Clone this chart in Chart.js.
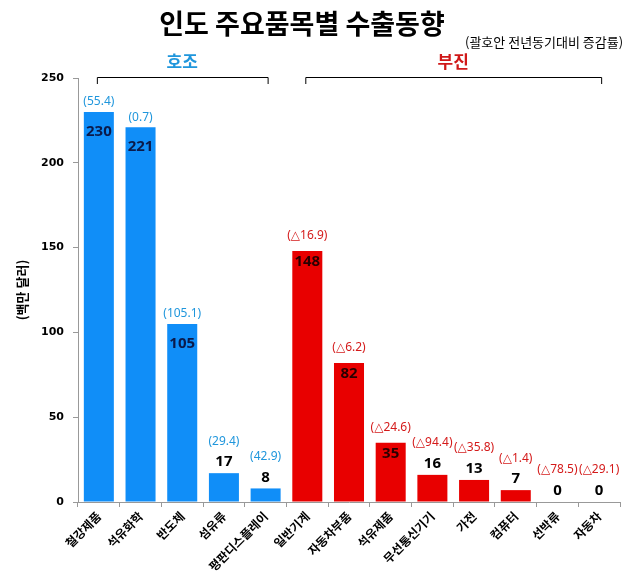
<!DOCTYPE html>
<html>
<head>
<meta charset="utf-8">
<script src="https://cdn.jsdelivr.net/npm/chart.js@4"></script>
<style>
  html, body { margin: 0; padding: 0; background: #fff; }
  #wrap { width: 638px; height: 586px; }
</style>
</head>
<body>
<div id="wrap"><canvas id="c" width="638" height="586"></canvas></div>
<script>
const categories = ['철강제품','석유화학','반도체','섬유류','평판디스플레이','일반기계','자동차부품','석유제품','무선통신기기','가전','컴퓨터','선박류','자동차'];
const exportValues = [230, 221, 105, 17, 8, 148, 82, 35, 16, 13, 7, 0, 0];
const changeLabels = ['(55.4)','(0.7)','(105.1)','(29.4)','(42.9)','(△16.9)','(△6.2)','(△24.6)','(△94.4)','(△35.8)','(△1.4)','(△78.5)','(△29.1)'];
const groupOf = ['호조','호조','호조','호조','호조','부진','부진','부진','부진','부진','부진','부진','부진'];
const groupNames = ['호조','부진'];
const yTicks = [0, 50, 100, 150, 200, 250];
const titleText = '인도 주요품목별 수출동향';
const subtitleText = '(괄호안 전년동기대비 증감률)';
const yAxisTitle = '(백만 달러)';

const KR = '"Noto Sans CJK KR", "Noto Sans", sans-serif';
const styles = {
  '호조': { bar: '#108EF8', label: '#1F96DC', inside: '#0B1A4A', group: '#1F96DC' },
  '부진': { bar: '#E80000', label: '#D41A1A', inside: '#2A0000', group: '#D01818' }
};

const overlay = {
  id: 'overlay',
  afterDatasetsDraw(chart) {
    const ctx = chart.ctx;
    const meta = chart.getDatasetMeta(0);
    const area = chart.chartArea;
    ctx.save();
    meta.data.forEach((bar, i) => {
      const g = groupOf[i];
      const st = styles[g];
      const top = bar.y;
      const h = bar.base - bar.y;
      const x = bar.x;
      ctx.textAlign = 'center';
      ctx.textBaseline = 'middle';
      let valY, chY, valColor;
      if (h > 40) {
        valY = top + (g === '호조' ? 20 : 11);
        chY = top - (g === '호조' ? 10 : 15);
        valColor = st.inside;
      } else {
        valY = top - 11;
        chY = top - 32;
        valColor = '#000';
      }
      ctx.font = 'bold 15px "Noto Sans", sans-serif';
      ctx.fillStyle = valColor;
      ctx.fillText(String(exportValues[i]), x, valY);
      ctx.font = '12px "Noto Sans", "DejaVu Sans", sans-serif';
      ctx.fillStyle = st.label;
      ctx.fillText(changeLabels[i], x, chY);
    });
    const xs = chart.scales.x;
    groupNames.forEach(g => {
      const idx = groupOf.map((v, i) => v === g ? i : -1).filter(i => i >= 0);
      const x0 = xs.getPixelForValue(idx[0]) - 2;
      const x1 = xs.getPixelForValue(idx[idx.length - 1]) + 2;
      const y = area.top - 1;
      ctx.strokeStyle = '#000';
      ctx.lineWidth = 1;
      ctx.beginPath();
      ctx.moveTo(x0 + 0.5, y + 7);
      ctx.lineTo(x0 + 0.5, y + 0.5);
      ctx.lineTo(x1 + 0.5, y + 0.5);
      ctx.lineTo(x1 + 0.5, y + 7);
      ctx.stroke();
      ctx.font = 'bold 17px ' + KR;
      ctx.fillStyle = styles[g].group;
      ctx.textAlign = 'center';
      ctx.textBaseline = 'middle';
      ctx.fillText(g, (x0 + x1) / 2, y - 15);
    });
    ctx.fillStyle = '#000';
    ctx.font = 'bold 27px ' + KR;
    ctx.textAlign = 'center';
    ctx.textBaseline = 'middle';
    ctx.fillText(titleText, 302, 24);
    ctx.font = '13px ' + KR;
    ctx.textAlign = 'left';
    ctx.fillText(subtitleText, 465, 42);
    ctx.save();
    ctx.translate(22, 290);
    ctx.rotate(-Math.PI / 2);
    ctx.font = 'bold 13px ' + KR;
    ctx.textAlign = 'center';
    ctx.textBaseline = 'middle';
    ctx.fillText(yAxisTitle, 0, 0);
    ctx.restore();
    ctx.restore();
  }
};

new Chart(document.getElementById('c'), {
  type: 'bar',
  data: {
    labels: categories,
    datasets: [{
      data: exportValues,
      backgroundColor: groupOf.map(g => styles[g].bar),
      borderWidth: 0,
      categoryPercentage: 1,
      barPercentage: 0.72
    }]
  },
  options: {
    responsive: false,
    animation: false,
    devicePixelRatio: 1,
    layout: { padding: { top: 78, right: 18, left: 0, bottom: 0 } },
    plugins: { legend: { display: false }, tooltip: { enabled: false }, title: { display: false } },
    scales: {
      x: {
        grid: { display: true, drawOnChartArea: false, tickLength: 5, color: '#999', offset: true },
        border: { display: true, color: '#999' },
        ticks: {
          autoSkip: false, maxRotation: 45, minRotation: 45, padding: 2,
          color: '#000', font: { family: KR, size: 12, weight: 'bold' }
        },
        afterFit(s) { s.height = 84; }
      },
      y: {
        min: 0, max: 250,
        afterBuildTicks(s) { s.ticks = yTicks.map(v => ({ value: v })); },
        grid: { display: true, drawOnChartArea: false, tickLength: 5, color: '#999' },
        border: { display: true, color: '#999' },
        ticks: { padding: 9, color: '#000', font: { family: '"DejaVu Sans", sans-serif', size: 11, weight: 'bold' } },
        afterFit(s) { s.width = 78; }
      }
    }
  },
  plugins: [overlay]
});
</script>
</body>
</html>
